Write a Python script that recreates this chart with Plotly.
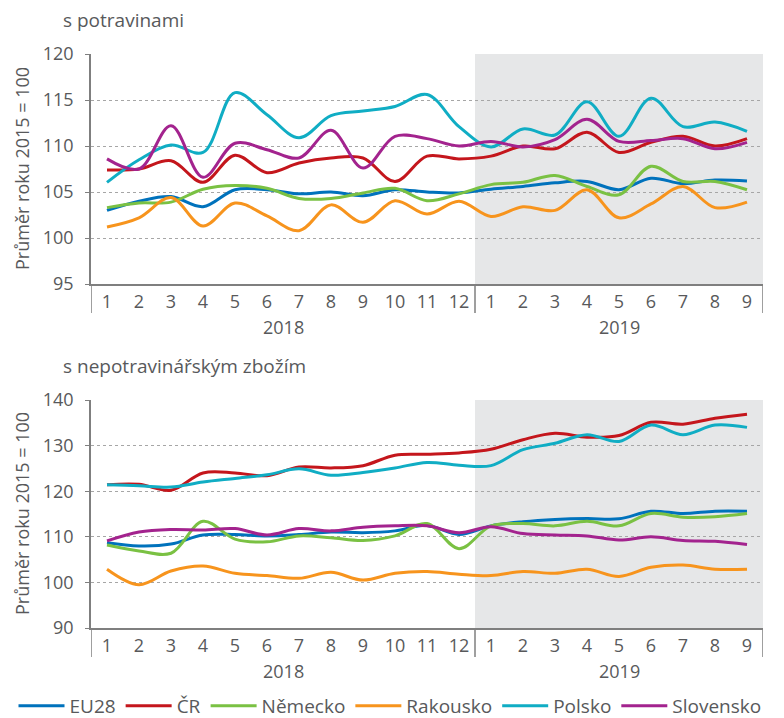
import plotly.graph_objects as go
from plotly.subplots import make_subplots

months = [str(m) for m in range(1, 13)] + [str(m) for m in range(1, 10)]
years = ["2018", "2019"]
series_names = ["EU28", "ČR", "Německo", "Rakousko", "Polsko", "Slovensko"]
colors = ["#0072bc", "#c4161c", "#7ac143", "#f7941d", "#10adc4", "#a3238e"]

# s potravinami
food_eu28 = [103.0, 104.0, 104.5, 103.4, 105.25, 105.25, 104.8, 105.0, 104.6, 105.25, 105.0, 104.9,
             105.3, 105.6, 106.0, 106.15, 105.25, 106.5, 105.9, 106.3, 106.2]
food_cr = [107.4, 107.5, 108.4, 106.05, 109.0, 107.1, 108.15, 108.7, 108.7, 106.15, 108.9, 108.6,
           108.9, 110.0, 109.7, 111.5, 109.3, 110.4, 111.05, 110.0, 110.8]
food_de = [103.3, 103.8, 103.9, 105.3, 105.7, 105.4, 104.3, 104.3, 104.9, 105.4, 104.05, 104.8,
           105.8, 106.05, 106.8, 105.6, 104.7, 107.8, 106.15, 106.15, 105.25]
food_at = [101.2, 102.2, 104.4, 101.3, 103.8, 102.4, 100.8, 103.6, 101.7, 104.05, 102.6, 104.0,
           102.35, 103.4, 103.0, 105.25, 102.2, 103.7, 105.6, 103.3, 103.9]
food_pl = [106.05, 108.5, 110.1, 109.3, 115.8, 113.4, 110.9, 113.3, 113.8, 114.3, 115.6, 112.1,
           109.9, 111.85, 111.2, 114.8, 111.05, 115.2, 112.1, 112.6, 111.6]
food_sk = [108.6, 107.5, 112.2, 106.6, 110.3, 109.6, 108.7, 111.7, 107.6, 111.05, 110.8, 110.0,
           110.5, 109.9, 110.7, 112.9, 110.5, 110.6, 110.8, 109.7, 110.4]

# s nepotravinářským zbožím
nonfood_eu28 = [108.7, 108.0, 108.4, 110.4, 110.5, 110.2, 110.5, 111.05, 110.9, 111.3, 112.5, 110.5,
                112.4, 113.3, 113.8, 114.0, 113.95, 115.6, 115.1, 115.6, 115.6]
nonfood_cr = [121.4, 121.5, 120.2, 124.0, 124.0, 123.4, 125.3, 125.1, 125.6, 127.9, 128.1, 128.4,
              129.2, 131.3, 132.7, 131.85, 132.2, 135.1, 134.7, 136.0, 136.9]
nonfood_de = [108.2, 106.9, 106.4, 113.4, 109.5, 108.9, 110.2, 109.8, 109.2, 110.2, 112.9, 107.4,
              112.4, 112.9, 112.4, 113.4, 112.4, 115.1, 114.3, 114.4, 115.1]
nonfood_at = [102.9, 99.5, 102.5, 103.6, 102.0, 101.5, 100.9, 102.2, 100.5, 102.0, 102.4, 101.8,
              101.5, 102.4, 102.0, 102.9, 101.3, 103.3, 103.8, 102.9, 102.9]
nonfood_pl = [121.4, 121.2, 120.9, 122.0, 122.8, 123.6, 124.9, 123.5, 124.1, 125.1, 126.3, 125.7,
              125.6, 129.1, 130.5, 132.4, 130.9, 134.5, 132.4, 134.5, 134.0]
nonfood_sk = [109.1, 111.05, 111.6, 111.5, 111.8, 110.4, 111.8, 111.3, 112.1, 112.4, 112.4, 110.9,
              112.2, 110.7, 110.4, 110.2, 109.3, 110.0, 109.2, 109.0, 108.3]

food = [food_eu28, food_cr, food_de, food_at, food_pl, food_sk]
nonfood = [nonfood_eu28, nonfood_cr, nonfood_de, nonfood_at, nonfood_pl, nonfood_sk]

# page body has an 8px margin; the figure fills the rest of the 784x718 window
OFF = 8
W, H = 784 - OFF, 718 - OFF
FONT = "Open Sans"
TXT = "#58595b"
AX = "#7f7f7f"


def px(x):
    return (x - OFF) / W


def py(y):
    return 1 - (y - OFF) / H


fig = make_subplots(rows=2, cols=1)
xs = list(range(len(months)))

for i, name in enumerate(series_names):
    fig.add_trace(go.Scatter(x=xs, y=food[i], mode="lines", name=name,
                             line=dict(color=colors[i], width=3, shape="spline", smoothing=1.0),
                             legendgroup=name, showlegend=True), row=1, col=1)
    fig.add_trace(go.Scatter(x=xs, y=nonfood[i], mode="lines", name=name,
                             line=dict(color=colors[i], width=3, shape="spline", smoothing=1.0),
                             legendgroup=name, showlegend=False), row=2, col=1)

xdom = [px(91), px(763)]
top_dom = [py(284), py(54)]
bot_dom = [py(628), py(400)]

xcommon = dict(range=[-0.5, 20.5], tickmode="array", tickvals=xs, ticktext=months,
               showgrid=False, zeroline=False, showline=True, linecolor=AX, linewidth=1.5,
               ticks="", tickfont=dict(family=FONT, size=18, color=TXT), ticklabelstandoff=1,
               domain=xdom, fixedrange=True, automargin=False)
fig.update_xaxes(**xcommon)
ycommon = dict(showgrid=True, gridcolor="#a6a6a6", gridwidth=1, griddash="3px,3px",
               zeroline=False, showline=True, linecolor=AX, linewidth=1.5,
               ticks="outside", ticklen=4, tickcolor=AX, tickwidth=1, automargin=False,
               tickfont=dict(family=FONT, size=18, color=TXT), ticklabelstandoff=8)
fig.update_yaxes(range=[95, 120], tickvals=[95, 100, 105, 110, 115, 120], domain=top_dom, row=1, col=1, **ycommon)
fig.update_yaxes(range=[90, 140], tickvals=[90, 100, 110, 120, 130, 140], domain=bot_dom, row=2, col=1, **ycommon)

shapes = []
annotations = []
for xr, yr, ydom in [("x", "y", top_dom), ("x2", "y2", bot_dom)]:
    shapes.append(dict(type="rect", xref=xr, yref=yr + " domain", x0=11.5, x1=20.5, y0=0, y1=1,
                       fillcolor="#e6e7e8", line=dict(width=0), layer="below"))
    hpx = (ydom[1] - ydom[0]) * H
    for xv in [-0.5, 11.5, 20.5]:
        shapes.append(dict(type="line", xref=xr, yref=yr + " domain", x0=xv, x1=xv, y0=0, y1=-29 / hpx,
                           line=dict(color=AX, width=1.5), layer="above"))
    ylab = ydom[0] - 43 / H
    annotations.append(dict(text=years[0], xref=xr, yref="paper", x=5.5, y=ylab, showarrow=False,
                            font=dict(family=FONT, size=18, color=TXT), xanchor="center", yanchor="middle"))
    annotations.append(dict(text=years[1], xref=xr, yref="paper", x=16, y=ylab, showarrow=False,
                            font=dict(family=FONT, size=18, color=TXT), xanchor="center", yanchor="middle"))
    annotations.append(dict(text="Průměr roku 2015 = 100", xref="paper", yref="paper", x=px(22),
                            y=(ydom[0] + ydom[1]) / 2, textangle=-90, showarrow=False,
                            font=dict(family=FONT, size=18, color=TXT), xanchor="center", yanchor="middle"))

annotations.append(dict(text="s potravinami", xref="paper", yref="paper", x=px(61), y=py(20),
                        showarrow=False, xanchor="left", yanchor="middle",
                        font=dict(family=FONT, size=19, color=TXT)))
annotations.append(dict(text="s nepotravinářským zbožím", xref="paper", yref="paper", x=px(61), y=py(366),
                        showarrow=False, xanchor="left", yanchor="middle",
                        font=dict(family=FONT, size=19, color=TXT)))

fig.update_layout(
    width=W, height=H, autosize=False,
    margin=dict(l=0, r=0, t=0, b=0, pad=0, autoexpand=False),
    paper_bgcolor="white", plot_bgcolor="white",
    shapes=shapes, annotations=annotations,
    showlegend=True,
    legend=dict(orientation="h", x=px(390), xanchor="center", y=py(706), yanchor="middle",
                font=dict(family=FONT, size=19, color=TXT), itemwidth=46, tracegroupgap=0,
                bgcolor="rgba(0,0,0,0)"),
)

fig.write_html("out.html")
